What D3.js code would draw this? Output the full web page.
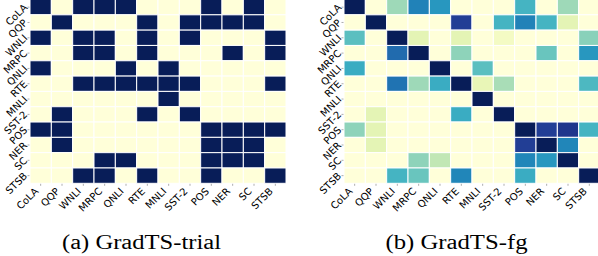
<!DOCTYPE html>
<html>
<head>
<meta charset="utf-8">
<script src="https://cdn.jsdelivr.net/npm/d3@7"></script>
<style>
  body { margin: 0; background: #fff; }
  svg { display: block; }
</style>
</head>
<body>
<svg id="chart" width="598" height="256"></svg>
<script>
const tasks = ["CoLA", "QQP", "WNLI", "MRPC", "QNLI", "RTE", "MNLI", "SST-2", "POS", "NER", "SC", "STSB"];

// GradTS-trial: binary selection matrix (row task -> column task)
const trialMatrix = [
  [1, 0, 1, 1, 1, 0, 0, 0, 1, 0, 1, 0],
  [0, 1, 0, 0, 0, 1, 0, 1, 1, 1, 1, 0],
  [1, 0, 1, 1, 0, 1, 0, 1, 0, 0, 0, 1],
  [0, 0, 1, 1, 0, 1, 0, 0, 0, 1, 0, 1],
  [1, 0, 0, 0, 1, 0, 1, 0, 0, 0, 0, 0],
  [0, 0, 1, 1, 1, 1, 1, 1, 0, 0, 0, 1],
  [0, 0, 0, 0, 0, 0, 1, 0, 0, 0, 0, 0],
  [0, 1, 0, 0, 0, 1, 0, 1, 0, 0, 0, 0],
  [1, 1, 0, 0, 0, 0, 0, 0, 1, 1, 1, 1],
  [0, 1, 0, 0, 0, 0, 0, 0, 1, 1, 1, 0],
  [0, 0, 0, 1, 1, 0, 0, 0, 1, 1, 1, 0],
  [0, 0, 1, 1, 0, 1, 0, 0, 1, 0, 0, 1]
];

// GradTS-fg: weighted correlations (0..1)
const fgMatrix = [
  [1.00, 0, 0.32, 0.66, 0.60, 0, 0, 0, 0.50, 0, 0.32, 0],
  [0, 1.00, 0, 0, 0, 0.85, 0, 0.50, 0.66, 0.50, 0.15, 0],
  [0.45, 0, 1.00, 0.15, 0, 0.15, 0, 0.07, 0, 0, 0, 0.36],
  [0, 0, 0.72, 1.00, 0, 0.35, 0, 0, 0, 0.42, 0, 0.60],
  [0.53, 0, 0, 0, 1.00, 0, 0.45, 0, 0, 0, 0, 0],
  [0, 0, 0.70, 0.32, 0.53, 1.00, 0.13, 0.30, 0, 0, 0, 0.48],
  [0, 0, 0, 0, 0, 0, 1.00, 0, 0, 0, 0, 0],
  [0, 0.15, 0, 0, 0, 0.53, 0, 1.00, 0, 0, 0, 0],
  [0.35, 0.15, 0, 0, 0, 0, 0, 0, 1.00, 0.85, 0.88, 0.50],
  [0, 0.15, 0, 0, 0, 0, 0, 0, 0.85, 1.00, 0.65, 0],
  [0, 0, 0, 0.35, 0.25, 0, 0, 0, 0.65, 0.60, 1.00, 0],
  [0, 0, 0.50, 0.42, 0, 0.65, 0, 0, 0.53, 0, 0, 1.00]
];

const panelTitles = ["(a) GradTS-trial", "(b) GradTS-fg"];

const svg = d3.select("#chart");
const color = d3.scaleSequential(d3.interpolateYlGnBu).domain([0, 1]);

const panels = [
  { data: trialMatrix, title: panelTitles[0], left: 30, captionX: 141.5, captionW: 159 },
  { data: fgMatrix, title: panelTitles[1], left: 344, captionX: 456.5, captionW: 142 }
];

const gridTop = -0.5, gridH = 183.8, gridW = 256;
const fontSize = 10;

panels.forEach((p) => {
  const x = d3.scaleBand().domain(tasks).range([p.left, p.left + gridW]);
  const y = d3.scaleBand().domain(tasks).range([gridTop, gridTop + gridH]);

  const cells = [];
  p.data.forEach((row, i) => row.forEach((v, j) => cells.push({ r: tasks[i], c: tasks[j], v })));

  svg.append("g")
    .selectAll("rect")
    .data(cells)
    .join("rect")
    .attr("x", (d) => x(d.c))
    .attr("y", (d) => y(d.r))
    .attr("width", x.bandwidth())
    .attr("height", y.bandwidth())
    .attr("fill", (d) => color(d.v))
    .attr("stroke", "#fff")
    .attr("stroke-width", 1);

  const gy = svg.append("g")
    .attr("transform", `translate(${p.left - 0.5},0)`)
    .call(d3.axisLeft(y).tickSize(2));
  const gx = svg.append("g")
    .attr("transform", `translate(0,${gridTop + gridH + 0.5})`)
    .call(d3.axisBottom(x).tickSize(2));

  [gx, gy].forEach((g) => {
    g.select(".domain").remove();
    g.selectAll(".tick line").attr("stroke", "#999").attr("stroke-width", 0.8);
    g.selectAll(".tick text")
      .style("font-family", "'DejaVu Sans', sans-serif")
      .style("font-size", fontSize + "px")
      .attr("fill", "#000");
  });

  // y labels: anchored at their end, rotated 45°
  gy.selectAll(".tick text")
    .attr("x", 0).attr("y", 0).attr("dy", "0.35em")
    .attr("text-anchor", "end")
    .attr("transform", "translate(-4,-1.5) rotate(-45)");

  // x labels: rotated bbox right-aligned to the tick
  gx.selectAll(".tick text").each(function () {
    const L = this.getComputedTextLength();
    const b = (L + fontSize * 1.17) * 0.3536;
    d3.select(this).attr("x", 0).attr("y", 0).attr("dy", "0.35em")
      .attr("text-anchor", "middle")
      .attr("transform", `translate(${-b},${1.5 + b}) rotate(-45)`);
  });

  svg.append("text")
    .attr("x", p.captionX - p.captionW / 2)
    .attr("y", 249)
    .attr("textLength", p.captionW)
    .attr("lengthAdjust", "spacingAndGlyphs")
    .style("font-family", "'Liberation Serif', 'Times New Roman', serif")
    .style("font-size", "20px")
    .attr("fill", "#000")
    .text(p.title);
});
</script>
</body>
</html>
